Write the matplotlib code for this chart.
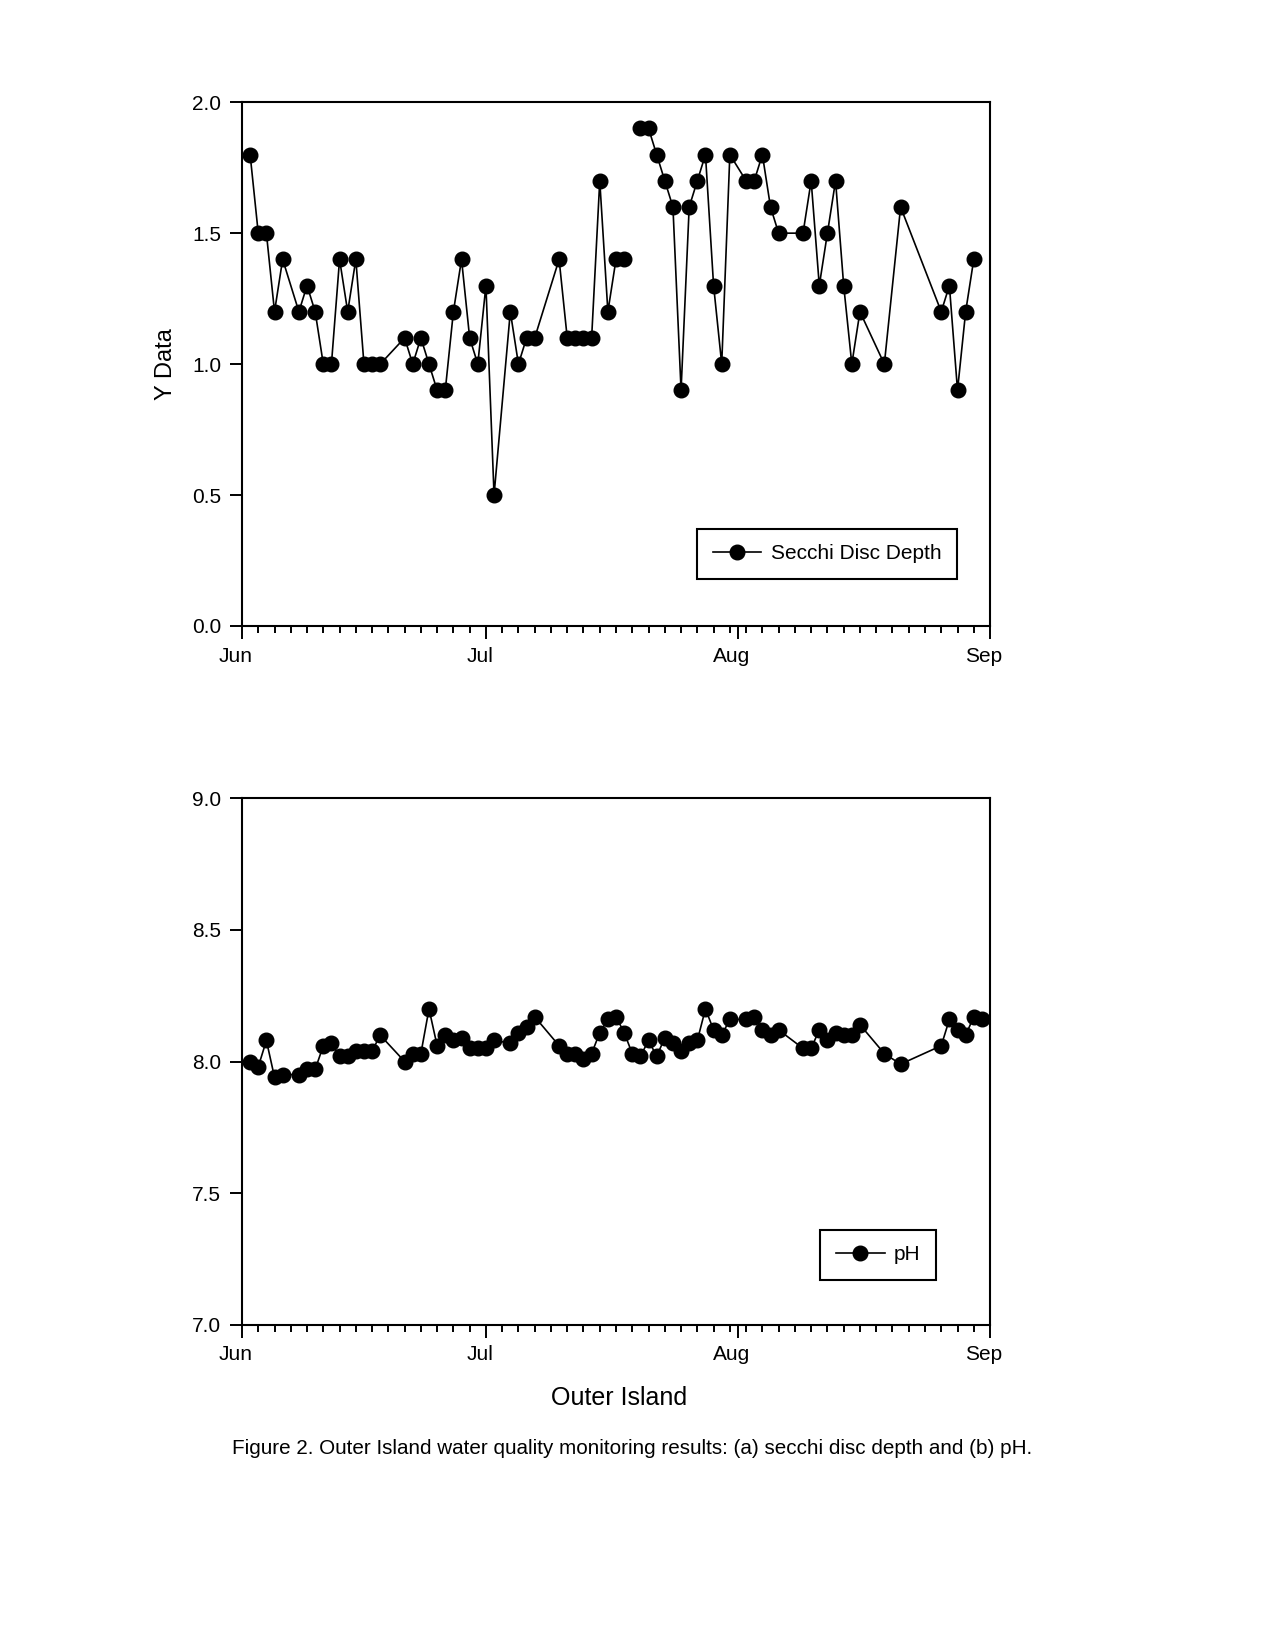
import numpy as np
import matplotlib
matplotlib.use("Agg")
import matplotlib.pyplot as plt
import matplotlib.dates as mdates
import matplotlib.transforms as mtransforms
from datetime import datetime, timedelta

plt.rcParams['font.family'] = ['Liberation Sans', 'DejaVu Sans']

year = 2009

# (a) secchi disc depth, m  (07-19 missing -> gap in line)
secchi_dates = ["06-02", "06-03", "06-04", "06-05", "06-06", "06-08", "06-09", "06-10",
                "06-11", "06-12", "06-13", "06-14", "06-15", "06-16", "06-17", "06-18",
                "06-21", "06-22", "06-23", "06-24", "06-25", "06-26", "06-27", "06-28",
                "06-29", "06-30", "07-01", "07-02", "07-04", "07-05", "07-06", "07-07",
                "07-10", "07-11", "07-12", "07-13", "07-14", "07-15", "07-16", "07-17",
                "07-18", "07-19", "07-20", "07-21", "07-22", "07-23", "07-24", "07-25",
                "07-26", "07-27", "07-28", "07-29", "07-30", "07-31", "08-02", "08-03",
                "08-04", "08-05", "08-06", "08-09", "08-10", "08-11", "08-12", "08-13",
                "08-14", "08-15", "08-16", "08-19", "08-21", "08-26", "08-27", "08-28",
                "08-29", "08-30"]
secchi = [1.8, 1.5, 1.5, 1.2, 1.4, 1.2, 1.3, 1.2,
          1.0, 1.0, 1.4, 1.2, 1.4, 1.0, 1.0, 1.0,
          1.1, 1.0, 1.1, 1.0, 0.9, 0.9, 1.2, 1.4,
          1.1, 1.0, 1.3, 0.5, 1.2, 1.0, 1.1, 1.1,
          1.4, 1.1, 1.1, 1.1, 1.1, 1.7, 1.2, 1.4,
          1.4, np.nan, 1.9, 1.9, 1.8, 1.7, 1.6, 0.9,
          1.6, 1.7, 1.8, 1.3, 1.0, 1.8, 1.7, 1.7,
          1.8, 1.6, 1.5, 1.5, 1.7, 1.3, 1.5, 1.7,
          1.3, 1.0, 1.2, 1.0, 1.6, 1.2, 1.3, 0.9,
          1.2, 1.4]

# (b) pH
ph_dates = ["06-02", "06-03", "06-04", "06-05", "06-06", "06-08", "06-09", "06-10",
            "06-11", "06-12", "06-13", "06-14", "06-15", "06-16", "06-17", "06-18",
            "06-21", "06-22", "06-23", "06-24", "06-25", "06-26", "06-27", "06-28",
            "06-29", "06-30", "07-01", "07-02", "07-04", "07-05", "07-06", "07-07",
            "07-10", "07-11", "07-12", "07-13", "07-14", "07-15", "07-16", "07-17",
            "07-18", "07-19", "07-20", "07-21", "07-22", "07-23", "07-24", "07-25",
            "07-26", "07-27", "07-28", "07-29", "07-30", "07-31", "08-02", "08-03",
            "08-04", "08-05", "08-06", "08-09", "08-10", "08-11", "08-12", "08-13",
            "08-14", "08-15", "08-16", "08-19", "08-21", "08-26", "08-27", "08-28",
            "08-29", "08-30", "08-31"]
ph = [8.00, 7.98, 8.08, 7.94, 7.95, 7.95, 7.97, 7.97,
      8.06, 8.07, 8.02, 8.02, 8.04, 8.04, 8.04, 8.10,
      8.00, 8.03, 8.03, 8.20, 8.06, 8.10, 8.08, 8.09,
      8.05, 8.05, 8.05, 8.08, 8.07, 8.11, 8.13, 8.17,
      8.06, 8.03, 8.03, 8.01, 8.03, 8.11, 8.16, 8.17,
      8.11, 8.03, 8.02, 8.08, 8.02, 8.09, 8.07, 8.04,
      8.07, 8.08, 8.20, 8.12, 8.10, 8.16, 8.16, 8.17,
      8.12, 8.10, 8.12, 8.05, 8.05, 8.12, 8.08, 8.11,
      8.10, 8.10, 8.14, 8.03, 7.99, 8.06, 8.16, 8.12,
      8.10, 8.17, 8.16]


def to_dates(md):
    return [datetime.strptime("%d-%s" % (year, s), "%Y-%m-%d") for s in md]


def style_axis(ax, ylim, yticks):
    start = datetime(year, 6, 1)
    end = datetime(year, 9, 1)
    ax.set_xlim(start, end)
    ax.set_ylim(*ylim)
    ax.set_yticks(yticks)
    ax.set_yticklabels(["%.1f" % t for t in yticks])
    ax.xaxis.set_major_locator(mdates.MonthLocator())
    ax.xaxis.set_major_formatter(mdates.DateFormatter("%b"))
    minor = [start + timedelta(days=d) for d in range(0, 93, 2)]
    ax.set_xticks(minor, minor=True)
    ax.tick_params(axis="both", which="major", direction="out", length=9, width=1.4,
                   labelsize=15, pad=6)
    ax.tick_params(axis="x", which="minor", direction="out", length=5, width=1.4)
    for sp in ax.spines.values():
        sp.set_linewidth(1.5)
    # labels sit slightly left of their ticks in the original
    shift = mtransforms.ScaledTranslation(-6 / 100, 0, ax.figure.dpi_scale_trans)
    for lab in ax.get_xticklabels():
        lab.set_transform(lab.get_transform() + shift)


def add_legend(ax, anchor):
    leg = ax.legend(loc="lower right", bbox_to_anchor=anchor, fontsize=15,
                    frameon=True, fancybox=False, handlelength=2.35, borderpad=0.75,
                    handletextpad=0.45, borderaxespad=0)
    leg.get_frame().set_edgecolor("black")
    leg.get_frame().set_linewidth(1.5)
    leg.get_frame().set_alpha(1)
    return leg


fig = plt.figure(figsize=(12.75, 16.46), dpi=100)

ax1 = fig.add_axes([0.1898, 0.6197, 0.5867, 0.3182])
ax1.plot(to_dates(secchi_dates), secchi, color="black", lw=1.2, marker="o",
         markersize=10.5, markerfacecolor="black", markeredgecolor="black",
         label="Secchi Disc Depth")
style_axis(ax1, (0, 2.0), [0.0, 0.5, 1.0, 1.5, 2.0])
ax1.set_ylabel("Y Data", fontsize=17)
ax1.yaxis.set_label_coords(-0.087, 0.5)
add_legend(ax1, (0.956, 0.09))

ax2 = fig.add_axes([0.1898, 0.1953, 0.5867, 0.3196])
ax2.plot(to_dates(ph_dates), ph, color="black", lw=1.2, marker="o",
         markersize=10.5, markerfacecolor="black", markeredgecolor="black",
         label="pH")
style_axis(ax2, (7.0, 9.0), [7.0, 7.5, 8.0, 8.5, 9.0])
add_legend(ax2, (0.928, 0.085))

fig.text(0.4855, 1 - 1398 / 1646, "Outer Island", fontsize=18, ha="center", va="center")
fig.text(0.4955, 1 - 1449 / 1646,
         "Figure 2. Outer Island water quality monitoring results: (a) secchi disc depth and (b) pH.",
         fontsize=14.9, ha="center", va="center")

fig.savefig("out.png", dpi=100)
